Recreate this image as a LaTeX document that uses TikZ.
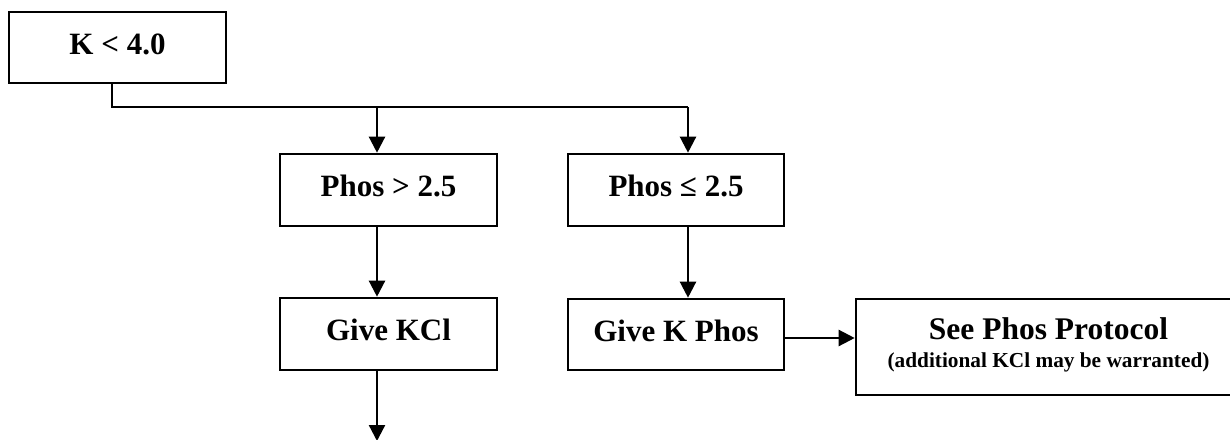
\documentclass[tikz,border=0pt]{standalone}
\usepackage{fontspec}
\setmainfont{Liberation Serif}
\usetikzlibrary{arrows.meta}
\begin{document}
\begin{tikzpicture}[x=1pt,y=-1pt,
  box/.style={draw=black,line width=2.6pt,rectangle,inner sep=0pt,
    font=\fontsize{31}{36}\selectfont\bfseries,text height=21pt,text depth=8pt},
  conn/.style={line width=2.3pt,draw=black},
  arr/.style={conn,-{Triangle[width=16pt,length=16pt]}},
  big/.style={font=\fontsize{31.5}{36}\selectfont\bfseries,inner sep=0pt,anchor=base},
  small/.style={font=\fontsize{21.3}{25}\selectfont\bfseries,inner sep=0pt,anchor=base}]
\useasboundingbox (0,0) rectangle (1230,439);
\node[box,minimum width=217pt,minimum height=71pt] (k) at (117.5,47.5) {K < 4.0};
\node[box,minimum width=217pt,minimum height=72pt] (phos1) at (388.5,190) {Phos > 2.5};
\node[box,minimum width=216pt,minimum height=72pt] (phos2) at (676,190) {Phos ≤ 2.5};
\node[box,minimum width=217pt,minimum height=72pt] (kcl) at (388.5,334) {Give KCl};
\node[box,minimum width=216pt,minimum height=71pt] (kphos) at (676,334.5) {Give K Phos};
\node[box,minimum width=440pt,minimum height=96pt] (see) at (1076,347) {};
\node[big] (seet) at (1048.5,339) {See Phos Protocol};
\node[small] (sees) at (1048.5,367) {(additional KCl may be warranted)};
\coordinate (split) at (688,107);
\coordinate (left) at (377,107);
\coordinate (down) at (377,441);
\coordinate (side) at (784,338);
\draw[conn] ([xshift=-5.5pt]k.south) |- (split);
\draw[arr] (left) -- (left |- phos1.north);
\draw[arr] (split) -- (split |- phos2.north);
\draw[arr] (left |- phos1.south) -- (left |- kcl.north);
\draw[arr] (split |- phos2.south) -- (split |- kphos.north);
\draw[arr] (left |- kcl.south) -- (down);
\draw[arr] (kphos.east |- side) -- (see.west |- side);
\end{tikzpicture}
\end{document}
